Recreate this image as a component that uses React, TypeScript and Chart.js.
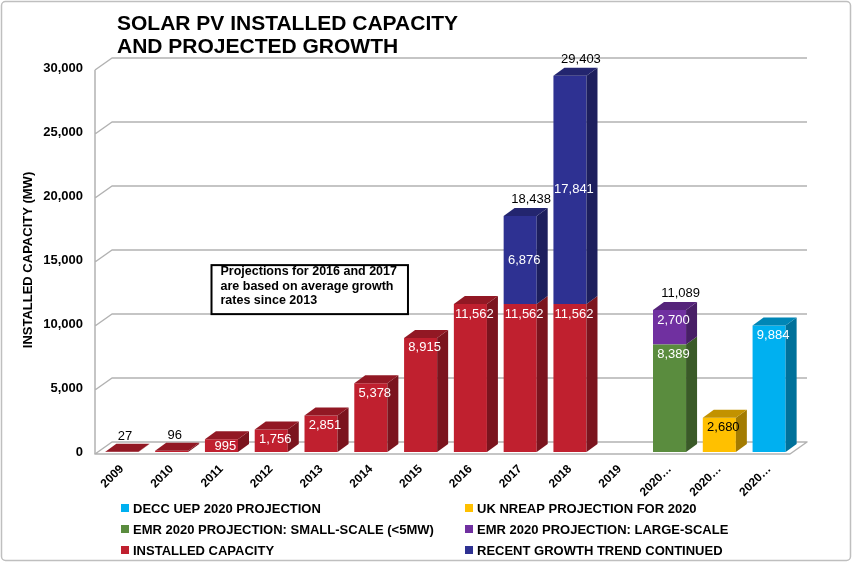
import React, { useEffect, useRef } from "react";
import { Chart, registerables } from "chart.js";

Chart.register(...registerables);

// ---------- data ----------
const categories = ["2009", "2010", "2011", "2012", "2013", "2014", "2015", "2016", "2017", "2018", "2019", "2020…", "2020…", "2020…"];
const installedCapacity = [27, 96, 995, 1756, 2851, 5378, 8915, 11562, 11562, 11562, null, null, null, null];
const recentGrowthTrend = [null, null, null, null, null, null, null, null, 6876, 17841, null, null, null, null];
const emrSmallScale = [null, null, null, null, null, null, null, null, null, null, null, 8389, null, null];
const emrLargeScale = [null, null, null, null, null, null, null, null, null, null, null, 2700, null, null];
const deccUep2020 = [null, null, null, null, null, null, null, null, null, null, null, null, null, 9884];
const ukNreap2020 = [null, null, null, null, null, null, null, null, null, null, null, null, 2680, null];
const yTickValues = [0, 5000, 10000, 15000, 20000, 25000, 30000];
const chartTitleLines = ["SOLAR PV INSTALLED CAPACITY", "AND PROJECTED GROWTH"];
const yAxisTitle = "INSTALLED CAPACITY (MW)";
const noteLines = ["Projections for 2016 and 2017", "are based on average growth", "rates since 2013"];
const noteAnchor = { category: 1.8, value: 14600 };

const FONT = "'Liberation Sans', Arial, sans-serif";
const fmt = (v: number) => Number(v).toLocaleString("en-US");

// bar depth offset & wall depth offset
const DX = 11, DY = -8;
const WX = 17, WY = -12;

function shade(hex: string, f: number) {
  const h = hex.replace("#", "");
  const r = Math.round(parseInt(h.slice(0, 2), 16) * f);
  const g = Math.round(parseInt(h.slice(2, 4), 16) * f);
  const b = Math.round(parseInt(h.slice(4, 6), 16) * f);
  return `rgb(${r},${g},${b})`;
}

const excel3d = {
  id: "excel3d",
  beforeDraw(chart: any) {
    const { ctx, width, height } = chart;
    ctx.save();
    ctx.fillStyle = "#ffffff";
    ctx.fillRect(0, 0, width, height);
    ctx.strokeStyle = "#BFBFBF";
    ctx.lineWidth = 1.5;
    ctx.beginPath();
    if (ctx.roundRect) ctx.roundRect(1.5, 1.5, width - 4, height - 4, 4);
    else ctx.rect(1.5, 1.5, width - 4, height - 4);
    ctx.stroke();
    ctx.restore();
  },
  beforeDatasetsDraw(chart: any) {
    const { ctx, chartArea: a, scales } = chart;
    const y = scales.y;
    const fx = a.left - 2;
    const fy0 = y.getPixelForValue(0) + 2;
    const fr = a.right - 4;
    ctx.save();
    ctx.strokeStyle = "#B2B2B2";
    ctx.lineWidth = 1.5;
    ctx.lineJoin = "round";
    // floor
    ctx.beginPath();
    ctx.moveTo(fx, fy0);
    ctx.lineTo(fr, fy0);
    ctx.lineTo(fr + WX, fy0 + WY);
    ctx.lineTo(fx + WX, fy0 + WY);
    ctx.closePath();
    ctx.stroke();
    // back wall gridlines
    ctx.beginPath();
    yTickValues.forEach((v) => {
      if (v === 0) return;
      const py = y.getPixelForValue(v) + 2;
      ctx.moveTo(fx, py);
      ctx.lineTo(fx + WX, py + WY);
      ctx.lineTo(fr + WX, py + WY);
    });
    // left wall front edge
    ctx.moveTo(fx, y.getPixelForValue(yTickValues[yTickValues.length - 1]) + 2);
    ctx.lineTo(fx, fy0);
    ctx.stroke();
    ctx.restore();
  },
  afterDatasetsDraw(chart: any) {
    const { ctx } = chart;
    const n = chart.data.labels.length;
    ctx.save();
    for (let i = 0; i < n; i++) {
      const segs: any[] = [];
      chart.data.datasets.forEach((ds: any, di: number) => {
        const v = ds.data[i];
        if (v == null) return;
        const el = chart.getDatasetMeta(di).data[i];
        const p = el.getProps(["x", "y", "base", "width"], true);
        segs.push({
          x0: p.x - p.width / 2,
          x1: p.x + p.width / 2,
          top: Math.min(p.y, p.base),
          bottom: Math.max(p.y, p.base),
          color: ds.backgroundColor,
          labelColor: ds.labelColor || "#ffffff",
          labelMode: ds.labelMode || "end",
          v,
        });
      });
      if (!segs.length) continue;
      segs.sort((s1, s2) => s2.bottom - s1.bottom);
      // side faces
      segs.forEach((s) => {
        ctx.fillStyle = shade(s.color, 0.64);
        ctx.beginPath();
        ctx.moveTo(s.x1, s.bottom);
        ctx.lineTo(s.x1 + DX, s.bottom + DY);
        ctx.lineTo(s.x1 + DX, s.top + DY);
        ctx.lineTo(s.x1, s.top);
        ctx.closePath();
        ctx.fill();
      });
      const t = segs[segs.length - 1];
      ctx.fillStyle = shade(t.color, 0.76);
      ctx.beginPath();
      ctx.moveTo(t.x0, t.top);
      ctx.lineTo(t.x0 + DX, t.top + DY);
      ctx.lineTo(t.x1 + DX, t.top + DY);
      ctx.lineTo(t.x1, t.top);
      ctx.closePath();
      ctx.fill();
      // labels
      ctx.font = `13px ${FONT}`;
      ctx.textAlign = "center";
      segs.forEach((s) => {
        const h = s.bottom - s.top;
        const cx = (s.x0 + s.x1) / 2;
        if (h < 6) {
          ctx.fillStyle = "#000";
          ctx.textBaseline = "alphabetic";
          ctx.fillText(fmt(s.v), cx + 3, s.top + DY - 4);
        } else {
          ctx.fillStyle = s.labelColor;
          ctx.textBaseline = "middle";
          const ly = s.labelMode === "center" ? (s.top + s.bottom) / 2 : s.top + Math.min(10, h / 2 + 1);
          ctx.fillText(fmt(s.v), cx + 4, ly);
        }
      });
      if (segs.length > 1) {
        const total = segs.reduce((acc, s) => acc + s.v, 0);
        const cx = (t.x0 + t.x1) / 2;
        ctx.fillStyle = "#000";
        ctx.textBaseline = "alphabetic";
        ctx.fillText(fmt(total), cx + DX, t.top + DY - 5);
      }
    }
    ctx.restore();
  },
  afterDraw(chart: any) {
    const { ctx, scales } = chart;
    ctx.save();
    // title
    ctx.fillStyle = "#000";
    ctx.font = `bold 21px ${FONT}`;
    ctx.textAlign = "left";
    ctx.textBaseline = "alphabetic";
    chartTitleLines.forEach((line, k) => ctx.fillText(line, 117, 30 + k * 23));

    // note box
    const x = scales.x, y = scales.y;
    const step = x.getPixelForValue(1) - x.getPixelForValue(0);
    const bx = x.getPixelForValue(0) + noteAnchor.category * step;
    const by = y.getPixelForValue(noteAnchor.value);
    ctx.font = `bold 12.5px ${FONT}`;
    const tw = Math.max(...noteLines.map((l) => ctx.measureText(l).width));
    const bw = tw + 20, bh = 49;
    ctx.fillStyle = "#fff";
    ctx.fillRect(bx, by, bw, bh);
    ctx.strokeStyle = "#000";
    ctx.lineWidth = 2;
    ctx.strokeRect(bx, by, bw, bh);
    ctx.fillStyle = "#000";
    noteLines.forEach((l, k) => ctx.fillText(l, bx + 9, by + 10 + k * 14.5));

    // legend (two columns, reversed pairs like Excel)
    const ds = chart.data.datasets;
    const rows: number[][] = [];
    for (let k = ds.length - 2; k >= 0; k -= 2) rows.push([k, k + 1]);
    const colX = [121, 465];
    ctx.font = `bold 13px ${FONT}`;
    ctx.textBaseline = "middle";
    rows.forEach((r, ri) => {
      const cy = 508 + ri * 21;
      r.forEach((di, ci) => {
        const d = ds[di];
        ctx.fillStyle = d.backgroundColor;
        ctx.fillRect(colX[ci], cy - 4, 8, 8);
        ctx.fillStyle = "#000";
        ctx.fillText(d.label, colX[ci] + 12, cy + 1);
      });
    });
    ctx.restore();
  },
};

export default function App() {
  const ref = useRef<HTMLCanvasElement | null>(null);
  useEffect(() => {
    if (!ref.current) return;
    const chart = new Chart(ref.current, {
      type: "bar",
      data: {
        labels: categories,
        datasets: [
          { label: "INSTALLED CAPACITY", data: installedCapacity, backgroundColor: "#C0202F" },
          { label: "RECENT GROWTH TREND CONTINUED", data: recentGrowthTrend, backgroundColor: "#2E3192", labelMode: "center" },
          { label: "EMR 2020 PROJECTION: SMALL-SCALE (<5MW)", data: emrSmallScale, backgroundColor: "#5A8C3E" },
          { label: "EMR 2020 PROJECTION: LARGE-SCALE", data: emrLargeScale, backgroundColor: "#7030A0" },
          { label: "DECC UEP 2020 PROJECTION", data: deccUep2020, backgroundColor: "#00B0F0" },
          { label: "UK NREAP PROJECTION FOR 2020", data: ukNreap2020, backgroundColor: "#FFC000", labelColor: "#000000" },
        ] as any,
      },
      options: {
        animation: false,
        responsive: false,
        devicePixelRatio: 1,
        layout: { padding: { top: 68, right: 59, bottom: 0, left: 10 } },
        datasets: { bar: { categoryPercentage: 1, barPercentage: 0.664, borderWidth: 0 } } as any,
        plugins: { legend: { display: false }, title: { display: false }, tooltip: { enabled: false } },
        scales: {
          x: {
            stacked: true,
            grid: { display: false, drawTicks: false },
            border: { display: false },
            ticks: {
              color: "#000",
              font: { family: FONT, size: 12, weight: "bold" },
              minRotation: 45,
              maxRotation: 45,
              autoSkip: false,
              padding: 10,
            },
            afterFit(s: any) { s.height = 111; },
          },
          y: {
            stacked: true,
            min: 0,
            max: 30000,
            grid: { display: false, drawTicks: false },
            border: { display: false },
            afterBuildTicks(s: any) { s.ticks = yTickValues.map((v) => ({ value: v })); },
            ticks: {
              color: "#000",
              font: { family: FONT, size: 13, weight: "bold" },
              padding: 14,
              callback: (v: any) => fmt(v),
            },
            title: {
              display: true,
              text: yAxisTitle,
              color: "#000",
              font: { family: FONT, size: 13, weight: "bold" },
              padding: { top: 11, bottom: 0 },
            },
            afterFit(s: any) { s.width = 87; },
          },
        },
      } as any,
      plugins: [excel3d],
    });
    return () => chart.destroy();
  }, []);
  return (
    <div style={{ position: "fixed", left: 0, top: 0, width: 853, height: 563, background: "#fff" }}>
      <canvas ref={ref} width={853} height={563} style={{ display: "block" }} />
    </div>
  );
}
